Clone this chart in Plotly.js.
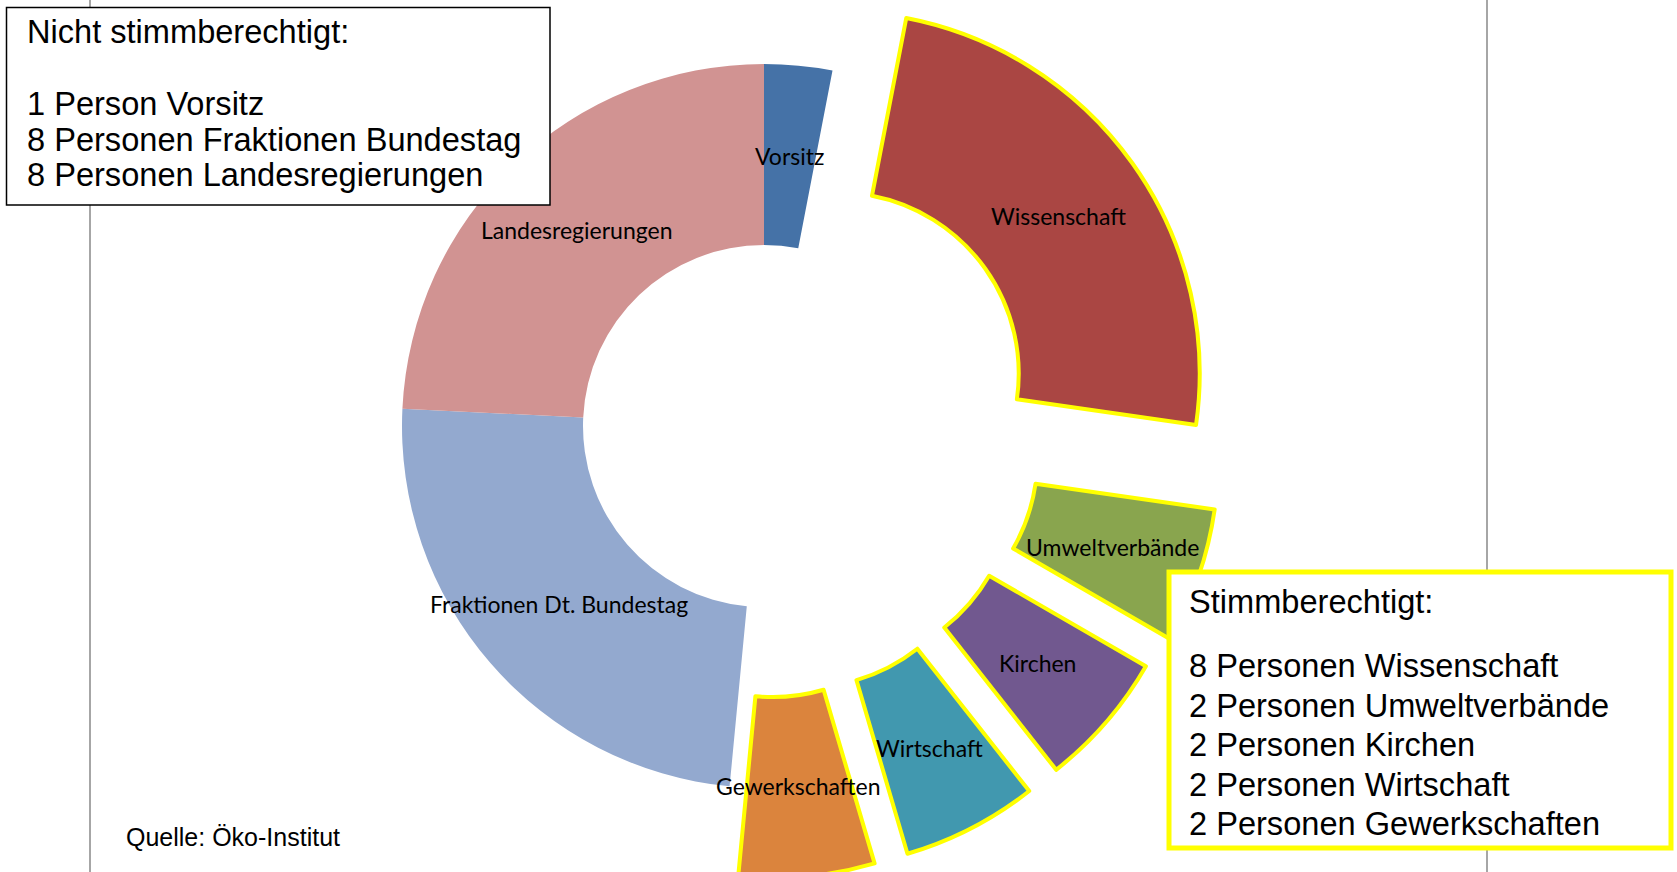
<!DOCTYPE html>
<html><head><meta charset="utf-8">
<script src="https://cdn.plot.ly/plotly-3.0.1.min.js"></script>
<style>
html,body{margin:0;padding:0;overflow:hidden;background:#fff;width:1677px;height:872px;}
#chart{position:absolute;left:0;top:-40px;width:1677px;height:952px;}
</style>
</head><body><div id="chart"></div>
<script>
// ---- data ----
const categories = ['Vorsitz', 'Wissenschaft', 'Umweltverbände', 'Kirchen', 'Wirtschaft', 'Gewerkschaften', 'Fraktionen Dt. Bundestag', 'Landesregierungen'];
const members = [1, 8, 2, 2, 2, 2, 8, 8];
const hasVote = [false, true, true, true, true, true, false, false];
const nonVotingTitle = 'Nicht stimmberechtigt:';
const nonVotingLines = ['1 Person Vorsitz', '8 Personen Fraktionen Bundestag', '8 Personen Landesregierungen'];
const votingTitle = 'Stimmberechtigt:';
const votingLines = ['8 Personen Wissenschaft', '2 Personen Umweltverbände', '2 Personen Kirchen', '2 Personen Wirtschaft', '2 Personen Gewerkschaften'];
const sourceNote = 'Quelle: Öko-Institut';

// ---- layout helpers ----
const W = 1677, H = 952, OFF = 40;
const px = v => v / W;
const py = v => 1 - (v + OFF) / H;

const colors = ['#4572A7', '#AA4643', '#89A54E', '#71588F', '#4198AF', '#DB843D', '#93A9CF', '#D19392'];
// explosion of the voting slices (style)
const pullStyle = [0, 0.25, 0.27, 0.25, 0.25, 0.25, 0, 0];
const pulls = hasVote.map((v, i) => v ? pullStyle[i] : 0);
const maxPull = Math.max(...pulls);
const CX = 764, CY = 426, R = 362;
const HALF = R * (1 + maxPull);

const trace = {
  type: 'pie',
  labels: categories,
  values: members,
  sort: false,
  direction: 'clockwise',
  rotation: 0,
  hole: 0.5,
  pull: pulls,
  textinfo: 'none',
  hoverinfo: 'label+value',
  showlegend: false,
  marker: {
    colors: colors,
    line: { color: hasVote.map(v => v ? '#FFFF00' : 'rgba(0,0,0,0)'), width: hasVote.map(v => v ? 4 : 0) }
  },
  domain: { x: [px(CX - HALF), px(CX + HALF)], y: [py(CY + HALF), py(CY - HALF)] }
};

// slice labels at mid-ring, mid-angle (following pulled slices)
const total = members.reduce((a, b) => a + b, 0);
let cum = 0;
const annotations = [];
members.forEach((v, i) => {
  const mid = (cum + v / 2) / total * 2 * Math.PI;
  cum += v;
  const rr = 0.75 * R + pulls[i] * R;
  annotations.push({
    x: px(CX + rr * Math.sin(mid)), y: py(CY - rr * Math.cos(mid)),
    xref: 'paper', yref: 'paper', xanchor: 'center', yanchor: 'middle',
    text: categories[i], showarrow: false,
    font: { family: 'Lato, Carlito, sans-serif', size: 23, color: '#000' }
  });
});

const boxFont = { family: 'Liberation Sans, Arial, sans-serif', size: 32.6, color: '#000' };
function line(text, x, y, font) {
  annotations.push({ x: px(x), y: py(y), xref: 'paper', yref: 'paper', xanchor: 'left', yanchor: 'middle',
    text: text, showarrow: false, font: font || boxFont });
}
line(nonVotingTitle, 25, 32);
nonVotingLines.forEach((t, i) => line(t, 25, 103.5 + i * 35.5));
line(votingTitle, 1187, 601);
votingLines.forEach((t, i) => line(t, 1187, 665.5 + i * 39.6));
line(sourceNote, 124, 837, { family: 'Liberation Sans, Arial, sans-serif', size: 25, color: '#000' });

const shapes = [
  { type: 'line', xref: 'paper', yref: 'paper', x0: px(90), x1: px(90), y0: 0, y1: 1, layer: 'below', line: { color: '#A6A6A6', width: 2 } },
  { type: 'line', xref: 'paper', yref: 'paper', x0: px(1487), x1: px(1487), y0: 0, y1: 1, layer: 'below', line: { color: '#A6A6A6', width: 2 } },
  { type: 'rect', xref: 'paper', yref: 'paper', x0: px(6.5), x1: px(550), y0: py(205), y1: py(7.5), layer: 'above', fillcolor: '#FFFFFF', line: { color: '#000000', width: 1.5 } },
  { type: 'rect', xref: 'paper', yref: 'paper', x0: px(1169), x1: px(1671), y0: py(848), y1: py(572), layer: 'above', fillcolor: '#FFFFFF', line: { color: '#FFFF00', width: 5 } }
];

const layout = {
  width: W, height: H,
  margin: { l: 0, r: 0, t: 0, b: 0 },
  paper_bgcolor: '#FFFFFF', plot_bgcolor: '#FFFFFF',
  showlegend: false,
  shapes: shapes,
  annotations: annotations
};

Plotly.newPlot('chart', [trace], layout, { displayModeBar: false, staticPlot: true });
</script>
</body></html>
